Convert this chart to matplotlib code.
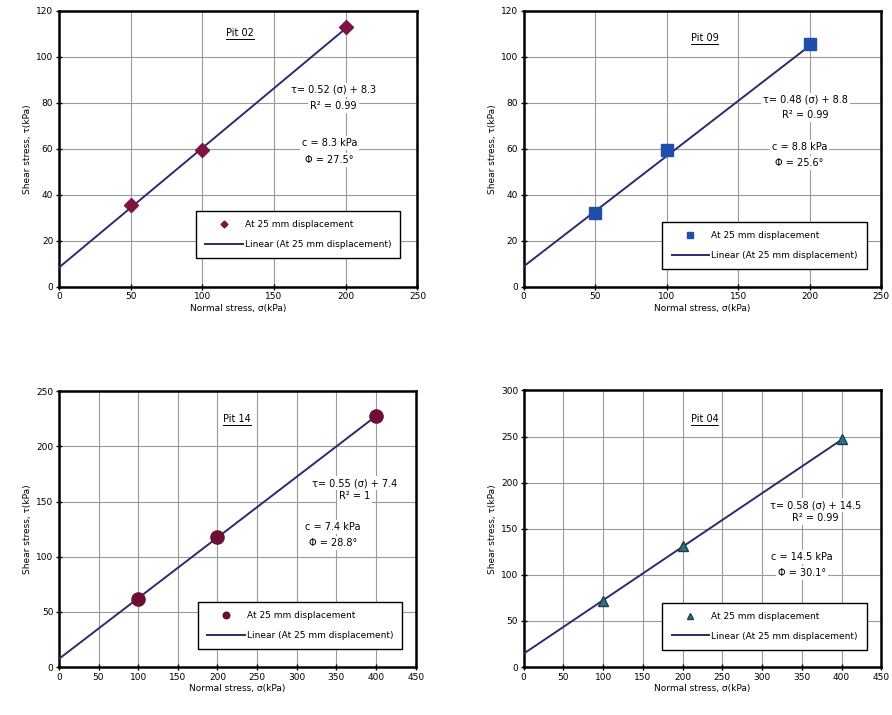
import matplotlib
matplotlib.use('Agg')
import matplotlib.pyplot as plt
import numpy as np
from matplotlib.lines import Line2D

# data
pits = ['Pit 02', 'Pit 09', 'Pit 14', 'Pit 04']
sigma = [[50, 100, 200], [50, 100, 200], [100, 200, 400], [100, 200, 400]]
tau = [[35.5, 59.5, 113], [32, 59.5, 105.5], [62, 118, 227], [72, 131, 247]]
slope = [0.52, 0.48, 0.55, 0.58]
intercept = [8.3, 8.8, 7.4, 14.5]
r2 = ['0.99', '0.99', '1', '0.99']
phi = ['27.5', '25.6', '28.8', '30.1']
xmax = [250, 250, 450, 450]
xstep = [50, 50, 50, 50]
ymax = [120, 120, 250, 300]
ystep = [20, 20, 50, 50]

markers = ['D', 's', 'o', '^']
mcolors = ['#7d1443', '#1f4fa8', '#6b0f35', '#2c7380']
msizes = [7, 8.5, 9.5, 7.5]
line_col = '#2b2b6e'

# axes rectangles (figure fractions)
rects = [[0.066, 0.599, 0.402, 0.386],
         [0.587, 0.599, 0.401, 0.386],
         [0.066, 0.067, 0.400, 0.386],
         [0.587, 0.067, 0.401, 0.387]]
# text positions in axes fraction: pit label, equation, r2, c, phi
txt_pos = [[(0.504, 0.92), (0.766, 0.714), (0.766, 0.656), (0.755, 0.522), (0.755, 0.46)],
           [(0.506, 0.90), (0.788, 0.678), (0.788, 0.623), (0.771, 0.507), (0.771, 0.449)],
           [(0.50, 0.90), (0.829, 0.667), (0.829, 0.62), (0.768, 0.507), (0.768, 0.449)],
           [(0.506, 0.895), (0.816, 0.585), (0.816, 0.538), (0.779, 0.397), (0.779, 0.339)]]
leg_anchor = [(0.964, 0.087), (0.972, 0.047), (0.975, 0.05), (0.972, 0.047)]

fig = plt.figure(figsize=(8.92, 7.15), dpi=100)
box = dict(facecolor='white', edgecolor='none', pad=1.5)
fs = 7
pit_texts = []

for i in range(4):
    ax = fig.add_axes(rects[i])
    xs = np.array(sigma[i])
    ax.plot(xs, tau[i], linestyle='none', marker=markers[i], color=mcolors[i],
            markeredgecolor=mcolors[i] if i != 3 else '#1d3d50', markersize=msizes[i],
            label='At 25 mm displacement', zorder=4)
    xl = np.array([0, xs.max()])
    ax.plot(xl, slope[i] * xl + intercept[i], color=line_col, lw=1.4,
            label='Linear (At 25 mm displacement)', zorder=3)

    ax.set_xlim(0, xmax[i])
    ax.set_ylim(0, ymax[i])
    ax.set_xticks(np.arange(0, xmax[i] + 1, xstep[i]))
    ax.set_yticks(np.arange(0, ymax[i] + 1, ystep[i]))
    ax.grid(True, color='#9a9a9a', lw=0.8)
    ax.set_axisbelow(True)
    for s in ax.spines.values():
        s.set_linewidth(1.8)
    ax.tick_params(labelsize=6.5, direction='inout', length=4, width=1, pad=2)
    ax.set_xlabel('Normal stress, σ(kPa)', fontsize=6.5, labelpad=2)
    ax.set_ylabel('Shear stress, τ(kPa)', fontsize=6.5, labelpad=3)

    p = txt_pos[i]
    t = ax.text(p[0][0], p[0][1], pits[i], transform=ax.transAxes, ha='center',
                va='center', fontsize=fs, bbox=box, zorder=5)
    pit_texts.append((ax, t))
    ax.text(p[1][0], p[1][1], 'τ= %.2f (σ) + %s' % (slope[i], intercept[i]),
            transform=ax.transAxes, ha='center', va='center', fontsize=fs, bbox=box, zorder=5)
    ax.text(p[2][0], p[2][1], 'R² = ' + r2[i], transform=ax.transAxes, ha='center',
            va='center', fontsize=fs, bbox=box, zorder=5)
    ax.text(p[3][0], p[3][1], 'c = %s kPa' % intercept[i], transform=ax.transAxes,
            ha='center', va='center', fontsize=fs, bbox=box, zorder=5)
    ax.text(p[4][0], p[4][1], 'Φ = %s°' % phi[i], transform=ax.transAxes,
            ha='center', va='center', fontsize=fs, bbox=box, zorder=5)

    leg = ax.legend(loc='lower right', bbox_to_anchor=leg_anchor[i], fontsize=6.5,
                    fancybox=False, framealpha=1, edgecolor='black', markerscale=0.5,
                    handlelength=4.2, borderpad=1.0, labelspacing=1.2, handletextpad=0.2)
    leg.get_frame().set_linewidth(1.0)
    leg.set_zorder(6)

# underline the pit labels
fig.canvas.draw()
r = fig.canvas.get_renderer()
inv = fig.transFigure.inverted()
for ax, t in pit_texts:
    bb = t.get_window_extent(renderer=r)
    (x0, y0), (x1, y1) = inv.transform([(bb.x0, bb.y0 - 1), (bb.x1, bb.y0 - 1)])
    fig.add_artist(Line2D([x0, x1], [y0, y1], transform=fig.transFigure,
                          color='black', lw=0.7, zorder=7))

fig.savefig('out.png', dpi=100)
